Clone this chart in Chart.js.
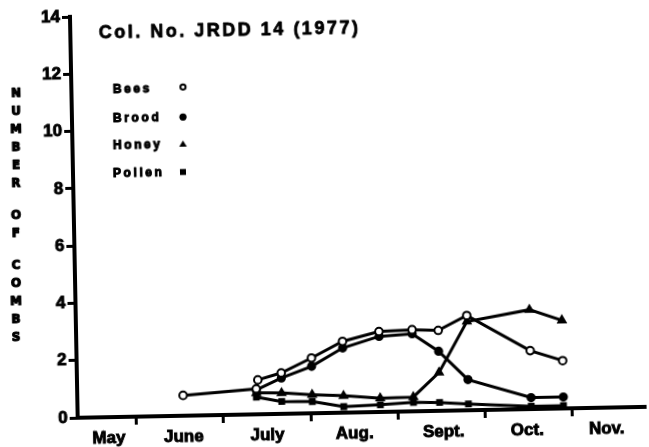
<!DOCTYPE html>
<html><head><meta charset="utf-8">
<script src="https://cdn.jsdelivr.net/npm/chart.js@4"></script>
<style>
html,body{margin:0;padding:0;background:#fff;overflow:hidden;}
#wrap{position:absolute;left:0;top:0;width:649px;height:447px;transform:rotate(-1.1deg);transform-origin:324.5px 223.5px;}
canvas{display:block;}
</style></head><body>
<div id="wrap"><canvas id="c" width="649" height="447"></canvas></div>
<script>
// Sampling dates in months after 1 May (1 = 1 June, 2 = 1 July, ...)
const sampleDates = [1.54, 2.38, 2.40, 2.67, 3.02, 3.38, 3.80, 4.18, 4.48, 4.81, 5.53, 5.90];
const bees   = [0.71, 0.89, 1.20, 1.43, 1.93, 2.49, 2.81, 2.85, 2.81, 3.31, 2.04, 1.67];
const brood  = [null, 0.85, null, 1.25, 1.64, 2.26, 2.64, 2.71, 2.08, 1.07, 0.40, 0.40];
const honey  = [null, 0.75, null, 0.73, 0.65, 0.59, 0.48, 0.50, 1.34, 3.10, 3.47, 3.08];
const pollen = [null, 0.60, null, 0.43, 0.41, 0.21, 0.25, 0.31, 0.29, 0.22, 0.10, 0.10];

const months       = ['May', 'June', 'July', 'Aug.', 'Sept.', 'Oct.', 'Nov.'];
const monthLabelAt = [0.68, 1.54, 2.50, 3.50, 4.52, 5.48, 6.39];
const monthStarts  = [1, 2, 3, 4, 5, 6];
const yTicks       = [0, 2, 4, 6, 8, 10, 12, 14];

const titleText  = 'Col. No. JRDD 14 (1977)';
const yTitleText = 'NUMBER OF COMBS';
const legendNames = ['Bees', 'Brood', 'Honey', 'Pollen'];

function pts(vals) {
  const out = [];
  sampleDates.forEach((x, i) => { if (vals[i] !== null) out.push({x: x, y: vals[i]}); });
  return out;
}

// map a point of the (slightly rotated) page back to canvas coordinates
const ANG = 1.1 * Math.PI / 180, CX = 324.5, CY = 223.5;
function unrot(sx, sy) {
  const X = sx - CX, Y = sy - CY;
  return [CX + X * Math.cos(ANG) - Y * Math.sin(ANG), CY + X * Math.sin(ANG) + Y * Math.cos(ANG)];
}

const FONT = '"Liberation Sans", Arial, Helvetica, sans-serif';
const near = (a, b) => Math.abs(a - b) < 1e-6;

function boldText(ctx, t, x, y, w) {
  ctx.lineWidth = w;
  ctx.lineJoin = 'round';
  ctx.strokeText(t, x, y);
  ctx.fillText(t, x, y);
}

const decor = {
  id: 'decor',
  beforeInit(chart) { chart.ctx.letterSpacing = '3px'; },
  afterDraw(chart) {
    const ctx = chart.ctx;
    ctx.save();
    ctx.fillStyle = '#000';
    ctx.strokeStyle = '#000';
    // title
    ctx.letterSpacing = '2.5px';
    ctx.font = 'bold 18px ' + FONT;
    ctx.textAlign = 'left';
    ctx.textBaseline = 'alphabetic';
    let p = unrot(99, 38);
    boldText(ctx, titleText, p[0], p[1], 0.8);
    // legend
    ctx.letterSpacing = '2.6px';
    ctx.font = 'bold 12px ' + FONT;
    const base = [93, 122, 149, 177];
    const mk = [87, 117, 144, 172];
    legendNames.forEach((n, i) => {
      p = unrot(113, base[i]);
      boldText(ctx, n, p[0], p[1], 1);
      const m = unrot(183, mk[i]);
      ctx.beginPath();
      if (i === 0) {
        ctx.lineWidth = 2;
        ctx.arc(m[0], m[1], 2.6, 0, Math.PI * 2);
        ctx.stroke();
      } else if (i === 1) {
        ctx.arc(m[0], m[1], 3.6, 0, Math.PI * 2);
        ctx.fill();
      } else if (i === 2) {
        ctx.moveTo(m[0], m[1] - 3.6);
        ctx.lineTo(m[0] + 3.8, m[1] + 2.6);
        ctx.lineTo(m[0] - 3.8, m[1] + 2.6);
        ctx.closePath();
        ctx.fill();
      } else {
        ctx.rect(m[0] - 3, m[1] - 3, 6, 6);
        ctx.fill();
      }
    });
    // stacked y-axis title
    ctx.letterSpacing = '0px';
    ctx.font = 'bold 13px "Liberation Sans Narrow", "DejaVu Sans Condensed", ' + FONT;
    ctx.textAlign = 'center';
    ctx.textBaseline = 'middle';
    let y = 94;
    for (const ch of yTitleText) {
      if (ch === ' ') { y += 14; continue; }
      p = unrot(16, y);
      boldText(ctx, ch, p[0], p[1], 1.2);
      y += 18;
    }
    ctx.restore();
  }
};

const ds = (label, vals, style, radius, bg) => ({
  label: label,
  data: pts(vals),
  borderColor: '#000',
  borderWidth: 3,
  pointStyle: style,
  pointRadius: radius,
  pointBorderWidth: 2,
  pointBorderColor: '#000',
  pointBackgroundColor: bg,
  tension: 0,
  fill: false
});

const tickFont = { family: FONT, size: 17, weight: 'bold' };

new Chart(document.getElementById('c'), {
  type: 'line',
  data: {
    datasets: [
      ds('Bees', bees, 'circle', 3.8, '#fff'),
      ds('Brood', brood, 'circle', 3.6, '#000'),
      ds('Honey', honey, 'triangle', 4.2, '#000'),
      ds('Pollen', pollen, 'rect', 3.4, '#000')
    ]
  },
  options: {
    responsive: false,
    animation: false,
    devicePixelRatio: 1,
    layout: { padding: { top: 12, right: 4, left: 0, bottom: 0 } },
    plugins: { legend: { display: false }, title: { display: false }, tooltip: { enabled: false } },
    scales: {
      x: {
        type: 'linear',
        min: 0.326,
        max: 6.85,
        afterBuildTicks(axis) {
          axis.ticks = monthStarts.concat(monthLabelAt).sort((a, b) => a - b).map(v => ({ value: v }));
        },
        afterFit(scale) { scale.height = 34; },
        ticks: {
          autoSkip: false,
          maxRotation: 0,
          padding: 3,
          color: '#000',
          textStrokeColor: '#000',
          textStrokeWidth: 0.9,
          font: tickFont,
          callback(value) {
            const i = monthLabelAt.findIndex(v => near(v, value));
            return i >= 0 ? months[i] : '';
          }
        },
        grid: {
          drawOnChartArea: false,
          drawTicks: true,
          tickLength: 8,
          tickWidth: 3,
          tickColor: (c) => (c.tick && monthStarts.some(v => near(v, c.tick.value))) ? '#000' : 'rgba(0,0,0,0)'
        },
        border: { display: true, color: '#000', width: 4 }
      },
      y: {
        type: 'linear',
        min: 0,
        max: 14,
        afterBuildTicks(axis) { axis.ticks = yTicks.map(v => ({ value: v })); },
        afterFit(scale) { scale.width = 74; },
        ticks: {
          padding: 2,
          color: '#000',
          textStrokeColor: '#000',
          textStrokeWidth: 0.9,
          font: tickFont
        },
        grid: {
          drawOnChartArea: false,
          drawTicks: true,
          tickLength: 8,
          tickWidth: 3,
          tickColor: '#000'
        },
        border: { display: true, color: '#000', width: 4 }
      }
    }
  },
  plugins: [decor]
});
</script></body></html>
